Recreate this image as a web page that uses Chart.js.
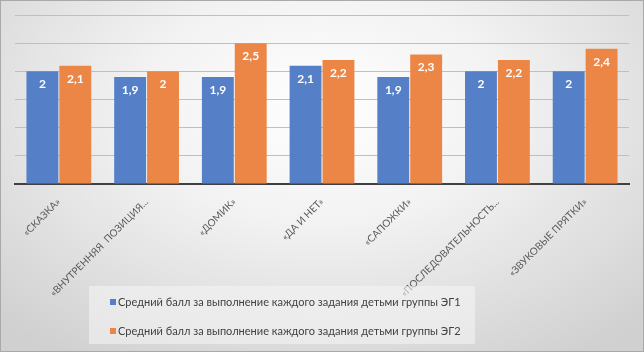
<!DOCTYPE html>
<html><head><meta charset="utf-8">
<script src="https://cdn.jsdelivr.net/npm/chart.js@4/dist/chart.umd.min.js"></script>
<style>
html,body{margin:0;padding:0;}
body{width:644px;height:352px;overflow:hidden;
background:radial-gradient(ellipse 72% 85% at 50% 30%, #ffffff 0%, #f2f2f2 40%, #d0d0d0 100%);}
#wrap{position:absolute;left:0;top:0;width:642px;height:350px;border:1px solid #a9a9a9;}
canvas{display:block;}
</style></head>
<body><div id="wrap"><canvas id="c" width="642" height="350"></canvas></div>
<script>
const categories = ["«СКАЗКА»", "«ВНУТРЕННЯЯ  ПОЗИЦИЯ...", "«ДОМИК»", "«ДА И НЕТ»", "«САПОЖКИ»", "«ПОСЛЕДОВАТЕЛЬНОСТЬ...", "«ЗВУКОВЫЕ ПРЯТКИ»"];
const seriesNames = ["Средний балл за выполнение каждого задания детьми группы ЭГ1",
                     "Средний балл за выполнение каждого задания детьми группы ЭГ2"];
const eg1 = [2, 1.9, 1.9, 2.1, 1.9, 2, 2];
const eg2 = [2.1, 2, 2.5, 2.2, 2.3, 2.2, 2.4];
const yMin = 0, yMax = 3, yStep = 0.5;
const colors = ["#5580C8", "#EC8646"];

const FONT = "Lato, 'Open Sans', sans-serif";

const labelPlugin = {
  id: 'barLabels',
  afterDatasetsDraw(chart) {
    const ctx = chart.ctx;
    ctx.save();
    ctx.fillStyle = '#ffffff';
    ctx.font = "bold 12px " + FONT;
    ctx.textAlign = 'center';
    ctx.textBaseline = 'middle';
    chart.data.datasets.forEach((ds, i) => {
      chart.getDatasetMeta(i).data.forEach((bar, j) => {
        const txt = String(ds.data[j]).replace('.', ',');
        ctx.fillText(txt, bar.x, bar.y + 13);
      });
    });
    ctx.restore();
  }
};

const legendPlugin = {
  id: 'customLegend',
  afterDraw(chart) {
    const ctx = chart.ctx;
    ctx.save();
    ctx.fillStyle = 'rgba(245,245,245,0.55)';
    ctx.fillRect(88, 285, 386, 58);
    ctx.font = "11px " + FONT;
    ctx.textBaseline = 'middle';
    ctx.textAlign = 'left';
    const rows = [301, 330];
    chart.data.datasets.forEach((ds, i) => {
      ctx.fillStyle = ds.backgroundColor;
      ctx.fillRect(109, rows[i] - 3, 6, 6);
      ctx.fillStyle = '#404040';
      ctx.fillText(ds.label, 117, rows[i]);
    });
    ctx.restore();
  }
};

new Chart(document.getElementById('c'), {
  type: 'bar',
  data: {
    labels: categories,
    datasets: [
      {label: seriesNames[0], data: eg1, backgroundColor: colors[0]},
      {label: seriesNames[1], data: eg2, backgroundColor: colors[1]}
    ]
  },
  options: {
    responsive: false,
    animation: false,
    devicePixelRatio: 1,
    datasets: {bar: {categoryPercentage: 0.75, barPercentage: 0.97}},
    layout: {padding: {left: 14, right: 14, top: 14, bottom: 0}},
    plugins: {legend: {display: false}, tooltip: {enabled: false}},
    scales: {
      x: {
        grid: {display: false},
        border: {display: true, color: '#404040', width: 2},
        ticks: {color: '#595959', font: {family: FONT, size: 10}, minRotation: 45, maxRotation: 45, autoSkip: false, padding: 4},
        afterFit(s) { s.height = 167; }
      },
      y: {
        min: yMin, max: yMax,
        ticks: {display: false, stepSize: yStep},
        grid: {color: '#bfbfbf', drawTicks: false, lineWidth: 1},
        border: {display: false}
      }
    }
  },
  plugins: [labelPlugin, legendPlugin]
});
</script>
</body></html>
